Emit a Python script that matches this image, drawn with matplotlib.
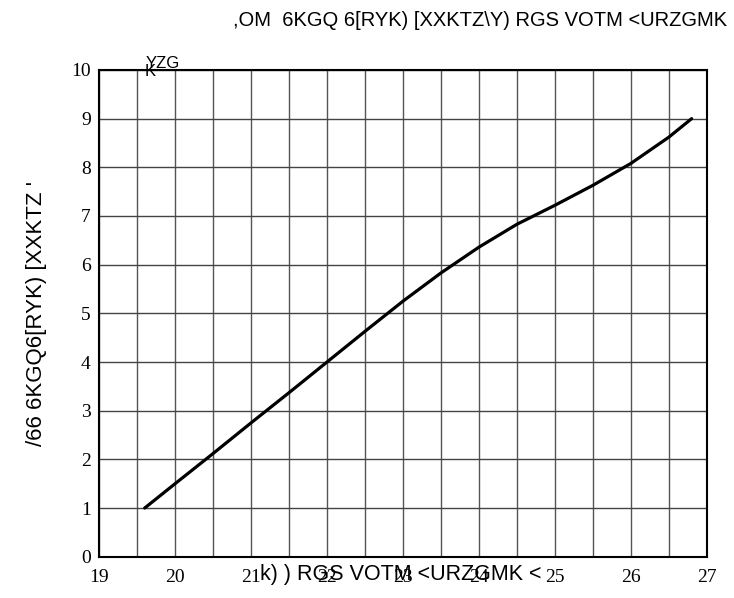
import matplotlib
matplotlib.use("Agg")
from matplotlib import pyplot as plt
import numpy as np

# values
xVals = [19.6, 20.0, 20.5, 21.0, 21.5, 22.0, 22.5, 23.0, 23.5, 24.0, 24.5, 25.0, 25.5, 26.0, 26.5, 26.8]
yVals = [1.0, 1.5, 2.12, 2.75, 3.37, 4.0, 4.63, 5.25, 5.83, 6.36, 6.83, 7.22, 7.63, 8.08, 8.62, 9.0]

xTicks = [19, 20, 21, 22, 23, 24, 25, 26, 27]
yTicks = [0, 1, 2, 3, 4, 5, 6, 7, 8, 9, 10]

TITLE = ",OM  6KGQ 6[RYK) [XXKTZ\\Y) RGS VOTM <URZGMK"
XLABEL = "k) ) RGS VOTM <URZGMK <"
YLABEL = "/66 6KGQ6[RYK) [XXKTZ '"
UNIT_TOP = "YZG"
UNIT_BOT = "K"

SANS = "Liberation Sans"
SERIF = "Liberation Serif"

fig = plt.figure(figsize=(7.34, 5.98), dpi=100)
ax = fig.add_axes([0.135, 0.069, 0.828, 0.814])

ax.plot(xVals, yVals, color="black", linewidth=2.3, solid_capstyle="round")

ax.set_xlim(19, 27)
ax.set_ylim(0, 10)
ax.set_xticks(xTicks)
ax.set_xticks(np.arange(19, 27.01, 0.5), minor=True)
ax.set_yticks(yTicks)
ax.set_xticklabels([str(t) for t in xTicks], fontfamily=SERIF, fontsize=14)
ax.set_yticklabels([str(t) for t in yTicks], fontfamily=SERIF, fontsize=14)
ax.tick_params(axis="both", which="both", length=0)
ax.tick_params(axis="x", pad=9)
ax.tick_params(axis="y", pad=6)

ax.grid(True, which="both", axis="x", color="#555555", linewidth=1.0)
ax.grid(True, which="major", axis="y", color="#444444", linewidth=1.0)
ax.set_axisbelow(True)
for s in ax.spines.values():
    s.set_linewidth(1.5)
    s.set_color("black")

ax.set_xlabel(XLABEL, fontfamily=SANS, fontsize=15.5)
ax.xaxis.set_label_coords(0.497, -0.037)
ax.xaxis.label.set_va("center")
ax.set_ylabel(YLABEL, fontfamily=SANS, fontsize=16)
ax.yaxis.set_label_coords(-0.103, 0.5)
ax.yaxis.label.set_va("center")

fig.text(480 / 734, 1 - 20 / 598, TITLE, fontfamily=SANS, fontsize=14.5, ha="center", va="center")
fig.text(146 / 734, 1 - 64 / 598, UNIT_TOP, fontfamily=SANS, fontsize=12, ha="left", va="center")
fig.text(145 / 734, 1 - 72 / 598, UNIT_BOT, fontfamily=SANS, fontsize=12, ha="left", va="center")

plt.savefig("out.png", dpi=100)
